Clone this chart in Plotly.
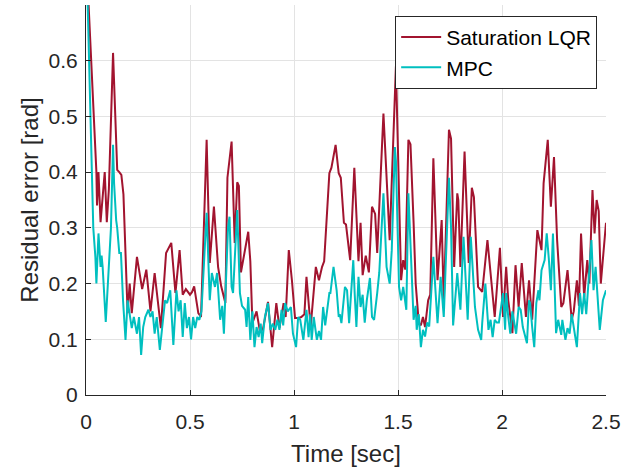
import plotly.graph_objects as go

# Saturation LQR: (time, residual error)
t_lqr = [0, 0.05, 0.053, 0.06, 0.07, 0.09, 0.10, 0.11, 0.13, 0.15, 0.16, 0.17, 0.18, 0.20, 0.21, 0.22,
         0.245, 0.27, 0.29, 0.31, 0.33, 0.36, 0.385, 0.41, 0.43, 0.45, 0.465, 0.48, 0.50, 0.51, 0.52,
         0.54, 0.553, 0.58, 0.595, 0.615, 0.635, 0.65, 0.67, 0.68, 0.70, 0.715, 0.727, 0.735, 0.745,
         0.765, 0.772, 0.78, 0.79, 0.80, 0.82, 0.835, 0.85, 0.875, 0.895, 0.915, 0.93, 0.95, 0.96,
         0.975, 0.99, 1.005, 1.02, 1.035, 1.05, 1.06, 1.08, 1.105, 1.12, 1.135, 1.145, 1.17, 1.18,
         1.20, 1.215, 1.225, 1.24, 1.25, 1.27, 1.29, 1.31, 1.32, 1.33, 1.345, 1.36, 1.375, 1.39, 1.40,
         1.43, 1.46, 1.49, 1.515, 1.525, 1.535, 1.55, 1.56, 1.575, 1.585, 1.60, 1.61, 1.62, 1.63,
         1.645, 1.655, 1.67, 1.69, 1.71, 1.72, 1.745, 1.755, 1.77, 1.785, 1.79, 1.80, 1.82, 1.84,
         1.855, 1.865, 1.885, 1.895, 1.905, 1.93, 1.945, 1.965, 1.99, 2.005, 2.02, 2.03, 2.05, 2.065,
         2.08, 2.095, 2.115, 2.13, 2.145, 2.17, 2.19, 2.20, 2.22, 2.235, 2.25, 2.265, 2.285, 2.295,
         2.315, 2.335, 2.345, 2.36, 2.37, 2.38, 2.395, 2.41, 2.42, 2.435, 2.445, 2.455, 2.465, 2.475, 2.5]
v_lqr = [0.80, 0.40, 0.34, 0.40, 0.31, 0.40, 0.31, 0.37, 0.614, 0.404, 0.40, 0.395, 0.36, 0.147, 0.20, 0.147,
         0.248, 0.19, 0.225, 0.15, 0.219, 0.12, 0.255, 0.273, 0.183, 0.26, 0.18, 0.19, 0.18, 0.185, 0.195,
         0.147, 0.14, 0.458, 0.237, 0.338, 0.23, 0.195, 0.165, 0.39, 0.455, 0.273, 0.382, 0.375, 0.22,
         0.26, 0.27, 0.293, 0.24, 0.129, 0.15, 0.117, 0.117, 0.167, 0.086, 0.165, 0.12, 0.165, 0.14,
         0.26, 0.206, 0.138, 0.138, 0.14, 0.145, 0.212, 0.122, 0.23, 0.206, 0.23, 0.24, 0.398, 0.408,
         0.449, 0.398, 0.39, 0.309, 0.306, 0.242, 0.408, 0.24, 0.309, 0.215, 0.25, 0.22, 0.338, 0.325, 0.255,
         0.505, 0.278, 0.59, 0.206, 0.242, 0.225, 0.458, 0.45, 0.309, 0.20, 0.129, 0.125, 0.14, 0.122,
         0.17, 0.18, 0.425, 0.206, 0.314, 0.165, 0.476, 0.46, 0.23, 0.362, 0.35, 0.23, 0.437, 0.237,
         0.372, 0.355, 0.194, 0.19, 0.185, 0.278, 0.219, 0.14, 0.264, 0.14, 0.23, 0.17, 0.111, 0.233,
         0.158, 0.237, 0.14, 0.206, 0.135, 0.296, 0.26, 0.38, 0.458, 0.338, 0.427, 0.278, 0.158, 0.165,
         0.224, 0.135, 0.15, 0.206, 0.16, 0.29, 0.176, 0.242, 0.20, 0.368, 0.29, 0.35, 0.33, 0.20, 0.309]

# MPC
t_mpc = [0, 0.035, 0.045, 0.05, 0.06, 0.07, 0.075, 0.08, 0.095, 0.115, 0.12, 0.13, 0.135, 0.145, 0.15,
         0.16, 0.168, 0.178, 0.19, 0.20, 0.21, 0.22, 0.23, 0.245, 0.255, 0.265, 0.275, 0.285, 0.30, 0.31,
         0.32, 0.33, 0.34, 0.355, 0.38, 0.39, 0.405, 0.42, 0.435, 0.445, 0.455, 0.465, 0.475, 0.485,
         0.495, 0.505, 0.515, 0.525, 0.535, 0.545, 0.555, 0.58, 0.595, 0.605, 0.62, 0.63, 0.645, 0.655,
         0.663, 0.673, 0.683, 0.69, 0.70, 0.707, 0.727, 0.74, 0.75, 0.765, 0.772, 0.78, 0.79, 0.80,
         0.81, 0.82, 0.83, 0.84, 0.847, 0.86, 0.875, 0.887, 0.898, 0.91, 0.92, 0.93, 0.94, 0.948, 0.957,
         0.97, 0.985, 0.995, 1.01, 1.02, 1.03, 1.045, 1.06, 1.07, 1.078, 1.085, 1.095, 1.11, 1.12, 1.13,
         1.14, 1.15, 1.17, 1.175, 1.19, 1.205, 1.215, 1.22, 1.228, 1.245, 1.255, 1.265, 1.285, 1.292,
         1.30, 1.31, 1.32, 1.33, 1.34, 1.35, 1.365, 1.375, 1.385, 1.40, 1.41, 1.43, 1.445, 1.46, 1.47,
         1.485, 1.49, 1.505, 1.515, 1.525, 1.54, 1.55, 1.56, 1.575, 1.585, 1.59, 1.60, 1.61, 1.62, 1.63,
         1.64, 1.65, 1.67, 1.69, 1.705, 1.72, 1.745, 1.755, 1.765, 1.785, 1.80, 1.815, 1.835, 1.85, 1.87,
         1.885, 1.90, 1.905, 1.92, 1.935, 1.945, 1.955, 1.965, 1.975, 1.985, 2.005, 2.015, 2.02, 2.03,
         2.04, 2.05, 2.058, 2.068, 2.08, 2.09, 2.10, 2.12, 2.13, 2.135, 2.145, 2.155, 2.165, 2.175, 2.18,
         2.19, 2.205, 2.215, 2.225, 2.235, 2.245, 2.255, 2.26, 2.27, 2.285, 2.29, 2.305, 2.315, 2.325,
         2.335, 2.36, 2.375, 2.385, 2.395, 2.405, 2.43, 2.44, 2.45, 2.46, 2.47, 2.485, 2.5]
v_mpc = [0.82, 0.30, 0.248, 0.20, 0.29, 0.23, 0.25, 0.23, 0.131, 0.278, 0.30, 0.449, 0.38, 0.314, 0.30,
         0.255, 0.255, 0.17, 0.099, 0.17, 0.14, 0.12, 0.14, 0.11, 0.14, 0.072, 0.122, 0.14, 0.153, 0.14,
         0.15, 0.11, 0.14, 0.081, 0.17, 0.165, 0.188, 0.09, 0.188, 0.15, 0.17, 0.104, 0.165, 0.12,
         0.14, 0.10, 0.14, 0.12, 0.14, 0.135, 0.15, 0.327, 0.17, 0.219, 0.194, 0.219, 0.135, 0.16,
         0.11, 0.20, 0.302, 0.32, 0.194, 0.183, 0.332, 0.183, 0.16, 0.153, 0.122, 0.176, 0.099, 0.15,
         0.086, 0.122, 0.104, 0.128, 0.093, 0.14, 0.165, 0.117, 0.128, 0.117, 0.135, 0.117, 0.153, 0.125, 0.165,
         0.15, 0.158, 0.11, 0.086, 0.14, 0.135, 0.099, 0.153, 0.104, 0.145, 0.099, 0.14, 0.099, 0.115, 0.099,
         0.158, 0.125, 0.183, 0.183, 0.23, 0.188, 0.14, 0.145, 0.129, 0.194, 0.188, 0.129, 0.242, 0.18,
         0.122, 0.212, 0.158, 0.18, 0.13, 0.17, 0.21, 0.14, 0.135, 0.183, 0.22, 0.362, 0.23, 0.20, 0.26,
         0.445, 0.42, 0.194, 0.17, 0.194, 0.153, 0.362, 0.28, 0.135, 0.16, 0.117, 0.145, 0.086, 0.117, 0.105,
         0.13, 0.123, 0.248, 0.129, 0.212, 0.14, 0.39, 0.30, 0.125, 0.219, 0.153, 0.284, 0.135, 0.284, 0.158,
         0.117, 0.099, 0.13, 0.20, 0.117, 0.135, 0.104, 0.135, 0.13, 0.13, 0.183, 0.117, 0.183, 0.14,
         0.11, 0.15, 0.13, 0.11, 0.158, 0.153, 0.122, 0.093, 0.17, 0.165, 0.122, 0.086, 0.165, 0.188, 0.17,
         0.224, 0.242, 0.29, 0.245, 0.188, 0.29, 0.19, 0.111, 0.135, 0.108, 0.135, 0.099, 0.12, 0.11,
         0.145, 0.086, 0.183, 0.145, 0.183, 0.145, 0.278, 0.188, 0.23, 0.17, 0.117, 0.17, 0.188]

x_ticks = [0, 0.5, 1, 1.5, 2, 2.5]
x_labels = ["0", "0.5", "1", "1.5", "2", "2.5"]
y_ticks = [0, 0.1, 0.2, 0.3, 0.4, 0.5, 0.6]
y_labels = ["0", "0.1", "0.2", "0.3", "0.4", "0.5", "0.6"]

FONT = "Liberation Sans, Arial, sans-serif"
AX = "#262626"

fig = go.Figure()
fig.add_trace(go.Scatter(x=t_lqr, y=v_lqr, mode="lines", name="Saturation LQR",
                         line=dict(color="#A2142F", width=2)))
fig.add_trace(go.Scatter(x=t_mpc, y=v_mpc, mode="lines", name="MPC",
                         line=dict(color="#00BFBF", width=2)))

fig.update_layout(
    width=632, height=474,
    margin=dict(l=86, r=26, t=5, b=79),
    paper_bgcolor="white", plot_bgcolor="white",
    font=dict(family=FONT, size=21, color=AX),
    showlegend=True,
    legend=dict(x=0.983, y=0.972, xanchor="right", yanchor="top",
                bgcolor="white", bordercolor=AX, borderwidth=1,
                font=dict(family=FONT, size=21, color="#000000"),
                tracegroupgap=0, itemwidth=40),
)
fig.update_xaxes(range=[0, 2.5], tickvals=x_ticks, ticktext=x_labels,
                 showgrid=True, gridcolor="#E3E3E3", gridwidth=1,
                 zeroline=False, showline=True, linecolor=AX, linewidth=1,
                 ticks="inside", ticklen=5, tickcolor=AX, ticklabelstandoff=8,
                 tickfont=dict(family=FONT, size=21, color=AX),
                 title=dict(text="Time [sec]", font=dict(family=FONT, size=24, color=AX), standoff=12))
fig.update_yaxes(range=[0, 0.7], tickvals=y_ticks, ticktext=y_labels,
                 showgrid=True, gridcolor="#E3E3E3", gridwidth=1,
                 zeroline=False, showline=True, linecolor=AX, linewidth=1,
                 ticks="inside", ticklen=5, tickcolor=AX, ticklabelstandoff=3,
                 tickfont=dict(family=FONT, size=21, color=AX),
                 title=dict(text="Residual error [rad]", font=dict(family=FONT, size=24, color=AX), standoff=3))

fig.write_html("out.html")
